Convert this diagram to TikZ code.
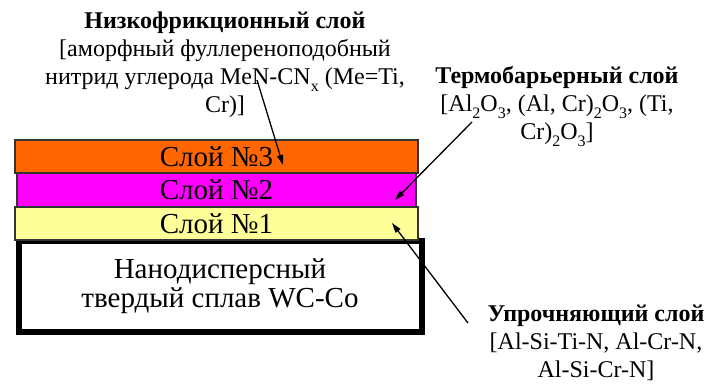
\documentclass[tikz,border=0pt]{standalone}
\usepackage{fontspec}
\setmainfont{Liberation Serif}
\usetikzlibrary{arrows.meta}
\definecolor{layerorange}{RGB}{255,102,0}
\definecolor{layermagenta}{RGB}{255,0,255}
\definecolor{layeryellow}{RGB}{255,255,153}
\newcommand{\lowsub}[1]{\raisebox{-7pt}{\fontsize{16}{16}\selectfont #1}}

\begin{document}
\begin{tikzpicture}[x=1pt, y=-1pt,
  layer/.style={draw=black!80, line width=1.2pt, minimum height=33pt, inner sep=0pt, font=\fontsize{29}{29}\selectfont},
  note/.style={align=center, font=\fontsize{24}{28}\selectfont},
  pointer/.style={-{Triangle[length=10pt,width=6pt]}, line width=1.3pt}]
\useasboundingbox (0,0) rectangle (707,387);
\node(sub) [draw, line width=6pt, minimum width=403pt, minimum height=91pt, inner sep=0pt, align=center, font=\fontsize{29}{29}\selectfont] at (220,286.5) {Нанодисперсный\\твердый сплав WC-Co};
\node(L1) [layer, fill=layeryellow, minimum width=403pt] at (216.5,223.5) {Слой №1};
\node(L2) [layer, fill=layermagenta, minimum width=399pt] at (216.5,190) {Слой №2};
\node(L3) [layer, fill=layerorange, minimum width=403pt] at (216.5,156.5) {Слой №3};
\node(fric) [note] at (225,65) {\textbf{Низкофрикционный слой}\\{}[аморфный фуллереноподобный\\нитрид углерода MeN-CN\lowsub{x} (Me=Ti,\\Cr)]};
\node(therm) [note] at (557,106) {\textbf{Термобарьерный слой}\\{}[Al\lowsub{2}O\lowsub{3}, (Al, Cr)\lowsub{2}O\lowsub{3}, (Ti,\\Cr)\lowsub{2}O\lowsub{3}]};
\node(hard) [note] at (596,343) {\textbf{Упрочняющий слой}\\{}[Al-Si-Ti-N, Al-Cr-N,\\Al-Si-Cr-N]};
\coordinate (fricTail) at (257,80);
\coordinate (fricTip) at (283,165);
\coordinate (thermTail) at (472,122);
\coordinate (thermTip) at (395,200);
\coordinate (hardTail) at (468,323);
\coordinate (hardTip) at (392,223);
\draw[pointer] (fricTail) -- (fricTip);
\draw[pointer] (thermTail) -- (thermTip);
\draw[pointer] (hardTail) -- (hardTip);
\end{tikzpicture}
\end{document}
